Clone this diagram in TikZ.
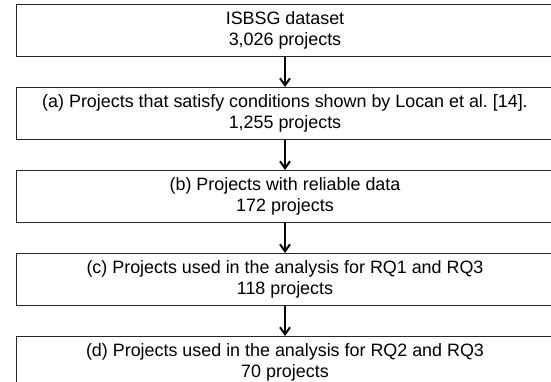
\documentclass[tikz,border=0pt]{standalone}
\usepackage{fontspec}
\setmainfont{Liberation Sans}
\usetikzlibrary{positioning, arrows.meta}

\begin{document}
\begin{tikzpicture}[x=1pt, y=1pt, node distance=30pt,
    stagebox/.style={draw=black!85, line width=1pt, minimum width=538pt, minimum height=52pt,
    inner sep=0pt, align=center, font=\fontsize{17.9}{20.5}\selectfont},
    flowarrow/.style={line width=2pt, -{Straight Barb[length=7pt,width=10pt]}}]
    \clip (0,0) rectangle (551,-382);
    \node[stagebox] (isbsg) at (285,-30.5) {ISBSG dataset\\3,026 projects};
    \node[stagebox, below=of isbsg] (stagea) {(a) Projects that satisfy conditions shown by Locan et al.\ [14].\\1,255 projects};
    \node[stagebox, below=of stagea] (stageb) {(b) Projects with reliable data\\172 projects};
    \node[stagebox, below=of stageb] (stagec) {(c) Projects used in the analysis for RQ1 and RQ3\\118 projects};
    \node[stagebox, below=of stagec] (staged) {(d) Projects used in the analysis for RQ2 and RQ3\\70 projects};
    \draw[flowarrow] (isbsg) -- (stagea);
    \draw[flowarrow] (stagea) -- (stageb);
    \draw[flowarrow] (stageb) -- (stagec);
    \draw[flowarrow] (stagec) -- (staged);
\end{tikzpicture}
\end{document}
